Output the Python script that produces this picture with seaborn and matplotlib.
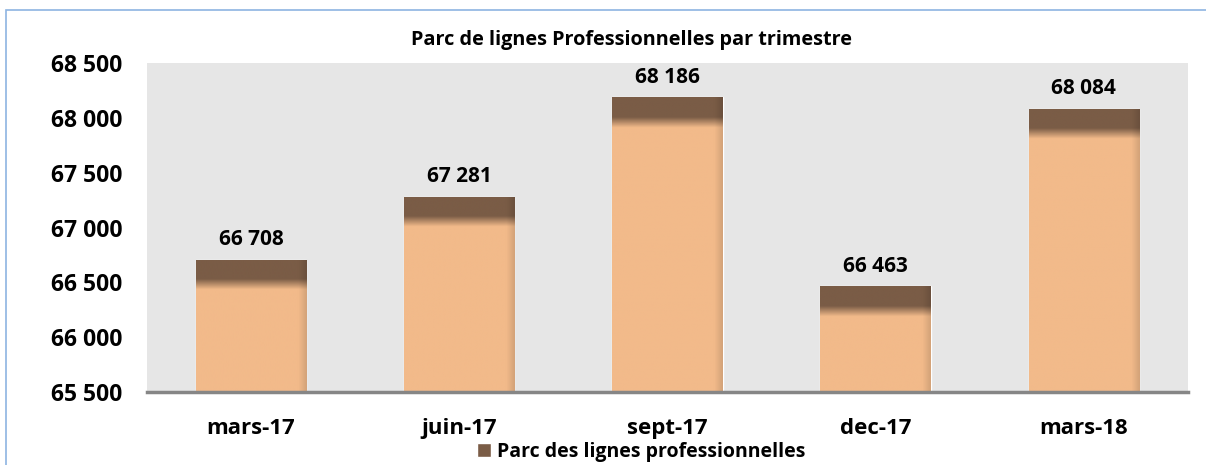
import numpy as np
import pandas as pd
import seaborn as sns
import matplotlib.pyplot as plt
from matplotlib.patches import Rectangle, Patch
from matplotlib.colors import to_rgb

# chart data
trimestres = ['mars-17', 'juin-17', 'sept-17', 'dec-17', 'mars-18']
parc = [66708, 67281, 68186, 66463, 68084]
y_ticks = [65500, 66000, 66500, 67000, 67500, 68000, 68500]

df = pd.DataFrame({'trimestre': trimestres, 'parc': parc})

def fmt(v):
    return f'{v:,.0f}'.replace(',', ' ')

sns.set_style('white')
plt.rcParams['font.family'] = ['Open Sans', 'DejaVu Sans']
plt.rcParams['font.weight'] = 'bold'
plt.rcParams['text.color'] = 'black'
plt.rcParams['xtick.color'] = 'black'
plt.rcParams['ytick.color'] = 'black'

peach = '#F2BA8A'
brown = '#7A5C46'

fig = plt.figure(figsize=(12.06, 4.65), dpi=100)
ax = fig.add_axes([0.1219, 0.157, 0.985 - 0.1219, 0.8645 - 0.157])
ax.set_facecolor('#E6E6E6')

sns.barplot(data=df, x='trimestre', y='parc', color=peach, width=0.53,
            saturation=1, ax=ax, zorder=2)

ax.set_ylim(65500, 68500)
ax.set_xlim(-0.5, len(trimestres) - 0.5)

# brown cap fading into peach, plus a slight shadow on the right edge
pc = np.array(to_rgb(peach))
bc = np.array(to_rgb(brown))
for p, v in zip(ax.patches, parc):
    x0, w = p.get_x(), p.get_width()
    ys = np.linspace(v, 65500, 400)
    depth = v - ys
    t = np.clip((depth - 180) / 95, 0, 1)[:, None]
    col = bc * (1 - t) + pc * t
    img = np.repeat(col[:, None, :], 60, axis=1)
    xs = np.linspace(0, 1, 60)
    shade = np.clip((xs - 0.93) / 0.07, 0, 1) * 0.12
    img = img * (1 - shade[None, :, None])
    im = ax.imshow(img, extent=(x0, x0 + w, 65500, v), aspect='auto',
                   zorder=3, interpolation='bilinear')
    im.set_clip_path(p)
    ax.text(x0 + w / 2, v + 90, fmt(v), ha='center', va='bottom',
            fontsize=15, fontweight='bold', zorder=4)

ax.set_yticks(y_ticks)
ax.set_yticklabels([fmt(v) for v in y_ticks], fontsize=16.5, fontweight='bold')
ax.set_xticks(range(len(trimestres)))
ax.set_xticklabels(trimestres, fontsize=16, fontweight='bold')
ax.tick_params(axis='y', length=0, pad=18)
ax.tick_params(axis='x', length=0, pad=19)
ax.set_xlabel('')
ax.set_ylabel('')
for s in ['top', 'right', 'left']:
    ax.spines[s].set_visible(False)
ax.spines['bottom'].set_color('#868686')
ax.spines['bottom'].set_linewidth(2.5)
ax.spines['bottom'].set_zorder(5)

fig.text(632 / 1206, 1 - 40 / 465, 'Parc de lignes Professionnelles par trimestre',
         ha='center', va='center', fontsize=14.3, fontweight='bold')

leg = fig.legend(handles=[Patch(facecolor=brown, label='Parc des lignes professionnelles')],
                 loc='center', bbox_to_anchor=(641 / 1206, 1 - 452 / 465), frameon=False,
                 prop={'size': 14, 'weight': 'bold'}, handlelength=0.7, handleheight=0.7,
                 handletextpad=0.3, borderpad=0, borderaxespad=0)

fig.patches.append(Rectangle((6 / 1206, -0.1), 1.2, 1 - 10 / 465 + 0.1,
                             transform=fig.transFigure, fill=False,
                             edgecolor='#8DB4E2', linewidth=1.2))

fig.savefig('out.png', dpi=100)
